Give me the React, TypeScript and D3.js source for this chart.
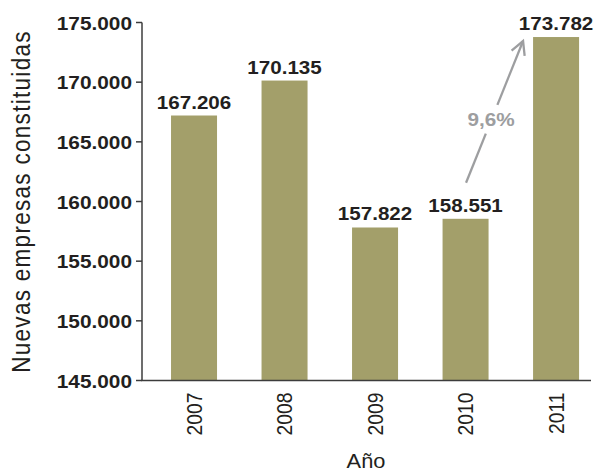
import React from "react";
import * as d3 from "d3";

const years = ["2007", "2008", "2009", "2010", "2011"];
const values = [167206, 170135, 157822, 158551, 173782];
const valueLabels = ["167.206", "170.135", "157.822", "158.551", "173.782"];
const yTicks = [145000, 150000, 155000, 160000, 165000, 170000, 175000];
const yTickLabels = ["145.000", "150.000", "155.000", "160.000", "165.000", "170.000", "175.000"];
const growthLabel = "9,6%";
const yTitle = "Nuevas empresas constituidas";
const xTitle = "Año";

const W = 596;
const H = 474;
const S = 1.12; // horizontal text stretch
const FONT = "'Liberation Sans', Arial, Helvetica, sans-serif";
const TEXT = "#231f20";
const BAR = "#a39f6a";
const GREY = "#9d9ea0";
const AXIS = "#3c3c3c";

export default function App() {
  const axisX = 142;
  const axisRight = 591;
  const y = d3.scaleLinear().domain([145000, 175000]).range([380.5, 22.5]);
  const x = d3
    .scaleBand<string>()
    .domain(years)
    .range([148.4, 601.7])
    .paddingInner(0.4917)
    .paddingOuter(0.25);
  const bw = x.bandwidth();
  const cx = (k: string) => (x(k) as number) + bw / 2;

  // arrow from above 2010 label to top-left of 2011 bar
  const x0 = cx("2010") + 0.5;
  const y0 = y(values[3]) - 36;
  const x1 = (x("2011") as number) - 10;
  const y1 = y(values[4]) + 4;
  const dx = x1 - x0;
  const dy = y1 - y0;
  const len = Math.hypot(dx, dy);
  const ux = dx / len;
  const uy = dy / len;
  const gapA = 53;
  const gapB = 84;
  const head = 15;
  const ang = (28 * Math.PI) / 180;
  const rot = (vx: number, vy: number, a: number) => [
    vx * Math.cos(a) - vy * Math.sin(a),
    vx * Math.sin(a) + vy * Math.cos(a),
  ];
  const [ax1, ay1] = rot(-ux, -uy, ang);
  const [ax2, ay2] = rot(-ux, -uy, -ang);
  const midT = (gapA + gapB) / 2;

  return (
    <svg
      width={W}
      height={H}
      style={{ position: "absolute", left: 0, top: 0, background: "#fff" }}
      fontFamily={FONT}
    >
      {years.map((k, i) => (
        <rect
          key={k}
          x={x(k)}
          y={y(values[i])}
          width={bw}
          height={y(145000) - y(values[i])}
          fill={BAR}
        />
      ))}

      {years.map((k, i) => (
        <text
          key={"v" + k}
          transform={`translate(${cx(k)},${y(values[i]) - 7}) scale(${S},1)`}
          textAnchor="middle"
          fontSize={18.4}
          fontWeight="bold"
          fill={TEXT}
        >
          {valueLabels[i]}
        </text>
      ))}

      <line x1={axisX} x2={axisX} y1={y(175000)} y2={y(145000)} stroke={AXIS} strokeWidth={1.5} />
      <line x1={axisX - 0.75} x2={axisRight} y1={y(145000)} y2={y(145000)} stroke={AXIS} strokeWidth={1.5} />
      {yTicks.map((t, i) => (
        <g key={"t" + t}>
          <line x1={axisX - 6} x2={axisX} y1={y(t)} y2={y(t)} stroke={AXIS} strokeWidth={1.5} />
          <text
            transform={`translate(${axisX - 10},${y(t) + 7}) scale(${S},1)`}
            textAnchor="end"
            fontSize={18.6}
            fontWeight="bold"
            fill={TEXT}
          >
            {yTickLabels[i]}
          </text>
        </g>
      ))}

      {years.map((k) => (
        <text
          key={"y" + k}
          transform={`translate(${cx(k) + 7.8},${392.5}) scale(${S},1) rotate(-90)`}
          textAnchor="end"
          fontSize={19.3}
          fill={TEXT}
        >
          {k}
        </text>
      ))}

      <text
        transform={`translate(29.5,201.5) scale(${S},1) rotate(-90)`}
        textAnchor="middle"
        fontSize={22.5}
        letterSpacing={1.3}
        fill={TEXT}
      >
        {yTitle}
      </text>
      <text
        transform={`translate(366,468) scale(${S},1)`}
        textAnchor="middle"
        fontSize={19.5}
        fill={TEXT}
      >
        {xTitle}
      </text>

      <line x1={x0} y1={y0} x2={x0 + ux * gapA} y2={y0 + uy * gapA} stroke={GREY} strokeWidth={2.3} />
      <line x1={x0 + ux * gapB} y1={y0 + uy * gapB} x2={x1} y2={y1} stroke={GREY} strokeWidth={2.3} />
      <polyline
        points={`${x1 + ax1 * head},${y1 + ay1 * head} ${x1},${y1} ${x1 + ax2 * head},${y1 + ay2 * head}`}
        fill="none"
        stroke={GREY}
        strokeWidth={2.3}
        strokeLinejoin="miter"
      />
      <text
        transform={`translate(${x0 + ux * midT - 0.5},${y0 + uy * midT + 7}) scale(${S},1)`}
        textAnchor="middle"
        fontSize={18.5}
        fontWeight="bold"
        fill={GREY}
      >
        {growthLabel}
      </text>
    </svg>
  );
}
